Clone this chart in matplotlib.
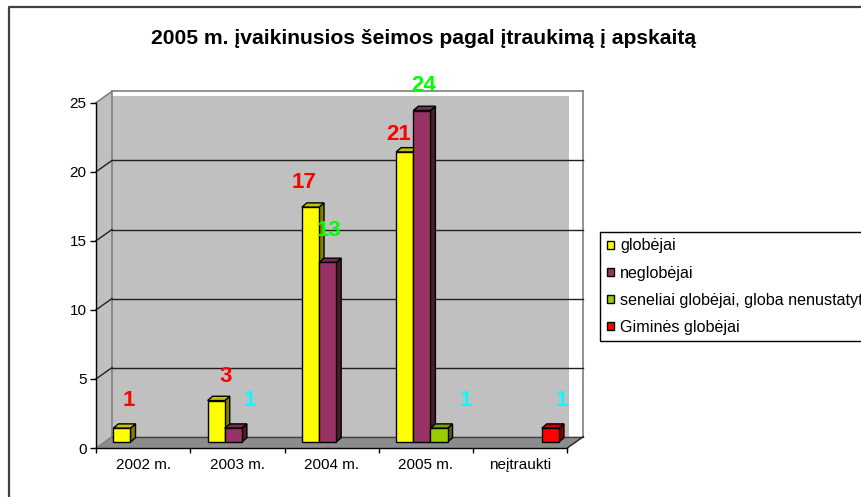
import matplotlib
matplotlib.use("Agg")
import matplotlib.pyplot as plt
from matplotlib.patches import Polygon, Patch
from matplotlib.lines import Line2D
import numpy as np

plt.rcParams['font.family'] = ['Liberation Sans', 'DejaVu Sans']

# ---------------- data ----------------
title = "2005 m. įvaikinusios šeimos pagal įtraukimą į apskaitą"
categories = ["2002 m.", "2003 m.", "2004 m.", "2005 m.", "neįtraukti"]
series_names = ["globėjai", "neglobėjai", "seneliai globėjai, globa nenustatyta", "Giminės globėjai"]
globejai = [1, 3, 17, 21, 0]
neglobejai = [0, 1, 13, 24, 0]
seneliai = [0, 0, 0, 1, 0]
gimines = [0, 0, 0, 0, 1]
series_values = [globejai, neglobejai, seneliai, gimines]
yticks = [0, 5, 10, 15, 20, 25]

# ---------------- style ----------------
front_col = ["#FFFF00", "#993366", "#99CC00", "#FF0000"]
top_col = ["#C2C200", "#7A2952", "#7AA300", "#CC0000"]
side_col = ["#808000", "#4D1A33", "#4D6600", "#800000"]
# data label colours (per series, per category)
label_col = [
    ["#FF0000", "#FF0000", "#FF0000", "#FF0000", "#FF0000"],
    ["#00FFFF", "#00FFFF", "#00FF00", "#00FF00", "#00FF00"],
    ["#00FFFF"] * 5,
    ["#00FFFF"] * 5,
]
# label offsets in pixels from top-centre of bar front face
label_off = {
    (0, 0): (7, 27.5), (0, 1): (9, 24), (1, 1): (16, 27.5),
    (0, 2): (-6, 24.5), (1, 2): (1.5, 31.5), (0, 3): (-6, 17),
    (1, 3): (2, 24.6), (2, 3): (27, 27.5), (3, 4): (11, 27.5),
}
W, H = 862, 497
DPI = 100
BD = (16, 11.3)    # back wall depth offset (px)
BS = (4.5, 6.0)    # bar front plane shift (px)
DD = (5.0, 4.3)    # bar depth (px)

fig = plt.figure(figsize=(W / DPI, H / DPI), dpi=DPI)
fig.patch.set_facecolor("white")

# outer chart frame
fig.add_artist(Line2D([9 / W, 9 / W, 1.01], [-0.01, 1 - 6.5 / H, 1 - 6.5 / H],
                      transform=fig.transFigure, color="#404040", lw=1.6))

x0, x1 = 96, 567.3
y0, y1 = 448, 102.7
ax = fig.add_axes([x0 / W, 1 - y0 / H, (x1 - x0) / W, (y0 - y1) / H])
ax.set_xlim(-0.5, len(categories) - 0.5)
ax.set_ylim(0, 25)
ax.patch.set_alpha(0)
for s in ["top", "right"]:
    ax.spines[s].set_visible(False)
for s in ["left", "bottom"]:
    ax.spines[s].set_color("black")
    ax.spines[s].set_linewidth(1)
    ax.spines[s].set_zorder(6)


def pt(x, y, dx=0.0, dy=0.0):
    X, Y = ax.transData.transform((x, y))
    return ax.transData.inverted().transform((X + dx, Y + dy))


def poly(pts, **kw):
    p = Polygon(np.array(pts), closed=True, clip_on=False, **kw)
    ax.add_patch(p)
    return p


def line(a, b, **kw):
    ax.add_line(Line2D([a[0], b[0]], [a[1], b[1]], clip_on=False, **kw))


xl, xr = -0.5, len(categories) - 0.5
ytop = yticks[-1]

# back wall fill
poly([pt(xl, 0, *BD), pt(xr, 0, BD[0] - 14, BD[1]),
      pt(xr, ytop, BD[0] - 14, BD[1] - 4.5), pt(xl, ytop, BD[0], BD[1] - 4.5)],
     facecolor="#C0C0C0", edgecolor="none", zorder=0.5)
# left wall
poly([pt(xl, 0), pt(xl, ytop), pt(xl, ytop, *BD), pt(xl, 0, *BD)],
     facecolor="#C0C0C0", edgecolor="none", zorder=0.5)
# frame of walls
line(pt(xl, ytop, *BD), pt(xr, ytop, *BD), color="#808080", lw=1.2, zorder=1)
line(pt(xr, 0, *BD), pt(xr, ytop, *BD), color="#808080", lw=1.2, zorder=1)
line(pt(xl, 0, *BD), pt(xl, ytop, *BD), color="#808080", lw=1.2, zorder=1)
line(pt(xl, ytop), pt(xl, ytop, *BD), color="#808080", lw=1.2, zorder=1)
# gridlines
for v in yticks[1:-1]:
    line(pt(xl, v, *BD), pt(xr, v, *BD), color="#202020", lw=1, zorder=1)
    line(pt(xl, v), pt(xl, v, *BD), color="#202020", lw=1, zorder=1)
# floor
poly([pt(xl, 0), pt(xr, 0), pt(xr, 0, *BD), pt(xl, 0, *BD)],
     facecolor="#8C8C8C", edgecolor="none", zorder=1.5)
line(pt(xl, 0, *BD), pt(xr, 0, *BD), color="#404040", lw=1, zorder=1.6)
line(pt(xr, 0), pt(xr, 0, *BD), color="#202020", lw=1, zorder=1.6)
line(pt(xl, 0), pt(xl, 0, *BD), color="#808080", lw=1, zorder=1.6)

# bars
ncat = len(categories)
nser = len(series_values)
bw = 1 / (nser + 1.5)
z = 3
for c in range(ncat):
    for s in range(nser):
        v = series_values[s][c]
        if v == 0:
            continue
        xc = c + (s - (nser - 1) / 2) * bw
        l, r = xc - bw / 2, xc + bw / 2
        # front face via bar, shifted in pixels
        fl = pt(l, 0, *BS); fr = pt(r, v, *BS)
        ax.bar((fl[0] + fr[0]) / 2, fr[1] - fl[1], width=fr[0] - fl[0], bottom=fl[1],
               color=front_col[s], edgecolor="black", linewidth=1, zorder=z + 0.2, clip_on=False)
        # side face
        poly([pt(r, 0, *BS), pt(r, v, *BS),
              pt(r, v, BS[0] + DD[0], BS[1] + DD[1]), pt(r, 0, BS[0] + DD[0], BS[1] + DD[1])],
             facecolor=side_col[s], edgecolor="black", lw=1, zorder=z)
        # top face
        poly([pt(l, v, *BS), pt(r, v, *BS),
              pt(r, v, BS[0] + DD[0], BS[1] + DD[1]), pt(l, v, BS[0] + DD[0], BS[1] + DD[1])],
             facecolor=top_col[s], edgecolor="black", lw=1, zorder=z + 0.1)
        z += 0.5
        # data label
        ox, oy = label_off.get((s, c), (0, 25))
        ax.annotate(str(v), xy=pt(xc, v, *BS), xytext=(ox, oy), textcoords="offset pixels",
                    ha="center", va="center", fontsize=16, fontweight="bold",
                    color=label_col[s][c], zorder=20, annotation_clip=False)

# axes ticks
ax.set_yticks(yticks)
ax.set_yticklabels([str(t) for t in yticks])
ax.tick_params(axis="y", length=4.3, width=1, pad=2.4, labelsize=11, color="black")
ax.set_xticks(range(ncat))
ax.set_xticklabels(categories)
ax.set_xticks(np.arange(ncat + 1) - 0.5, minor=True)
ax.tick_params(axis="x", which="major", length=0, pad=7.5, labelsize=11)
ax.tick_params(axis="x", which="minor", length=3.6, width=1, color="black")

# title
fig.text(423.5 / W, 1 - 44 / H, title, ha="center", va="baseline",
         fontsize=15.2, fontweight="bold")

# legend
handles = [Patch(facecolor=front_col[i], edgecolor="black", linewidth=1) for i in range(nser)]
leg = fig.legend(handles, series_names, loc="upper left",
                 bbox_to_anchor=(600 / W, 1 - 231.7 / H), bbox_transform=fig.transFigure,
                 fontsize=11.6, frameon=True, fancybox=False, framealpha=1,
                 edgecolor="black", borderpad=0.42, borderaxespad=0,
                 handlelength=0.42, handleheight=0.42, handletextpad=0.42,
                 labelspacing=0.75)
leg.get_frame().set_linewidth(1)

fig.savefig("out.png", dpi=DPI)
